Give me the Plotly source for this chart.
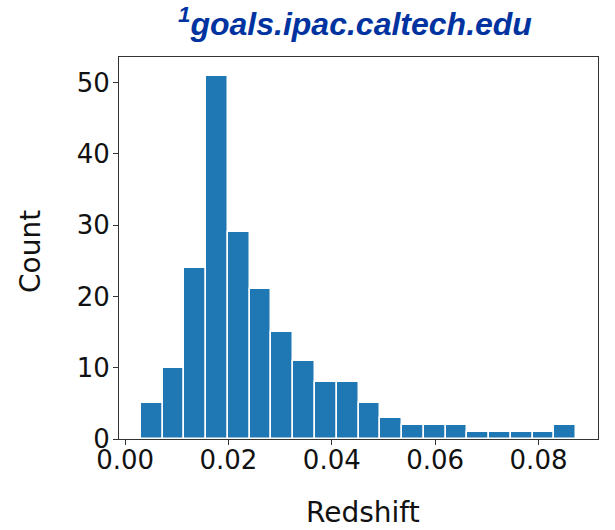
import numpy as np
import plotly.graph_objects as go

# Histogram data
counts = [5, 10, 24, 51, 29, 21, 15, 11, 8, 8, 5, 3, 2, 2, 2, 1, 1, 1, 1, 2]
bin_lo = 0.00303
bin_hi = 0.0873
x_tickvals = [0.00, 0.02, 0.04, 0.06, 0.08]
x_ticktext = ["0.00", "0.02", "0.04", "0.06", "0.08"]
y_tickvals = [0, 10, 20, 30, 40, 50]
title_text = "<sup>1</sup>goals.ipac.caltech.edu"
x_label = "Redshift"
y_label = "Count"

edges = np.linspace(bin_lo, bin_hi, len(counts) + 1)
centers = (edges[:-1] + edges[1:]) / 2
width = edges[1] - edges[0]

W, H = 615, 530
L, R, T, B = 119, 17, 57, 91
pw, ph = W - L - R, H - T - B

def px(x):
    return (x - L) / pw

def py(y):
    return (H - B - y) / ph

fig = go.Figure()
fig.add_trace(go.Bar(
    x=centers, y=counts, width=[width] * len(counts),
    marker=dict(color="#1f77b4", line=dict(color="white", width=1.5)),
))

span = bin_hi - bin_lo
fig.update_layout(
    width=W, height=H,
    margin=dict(l=L, r=R, t=T, b=B, autoexpand=False),
    paper_bgcolor="white", plot_bgcolor="white",
    showlegend=False, bargap=0,
    font=dict(family="DejaVu Sans", size=26, color="#111"),
    xaxis=dict(
        range=[bin_lo - 0.05 * span, bin_hi + 0.05 * span],
        tickvals=x_tickvals, ticktext=x_ticktext,
        tickfont=dict(size=26),
        ticks="outside", ticklen=5, tickcolor="#333",
        ticklabelstandoff=-7,
        showline=True, linecolor="#333", linewidth=1, mirror=True,
        showgrid=False, zeroline=False, automargin=False,
    ),
    yaxis=dict(
        range=[0, 53.6],
        tickvals=y_tickvals,
        tickfont=dict(size=26),
        ticks="outside", ticklen=5, tickcolor="#333",
        ticklabelstandoff=-2,
        showline=True, linecolor="#333", linewidth=1, mirror=True,
        showgrid=False, zeroline=False, automargin=False,
    ),
    annotations=[
        dict(
            text="<b><i>" + title_text + "</i></b>",
            xref="paper", yref="paper", x=px(355), y=py(22),
            xanchor="center", yanchor="middle", showarrow=False,
            font=dict(family="Liberation Sans, Arial", size=32, color="#0033a0"),
        ),
        dict(
            text=x_label, xref="paper", yref="paper", x=px(363), y=py(512),
            xanchor="center", yanchor="middle", showarrow=False,
            font=dict(family="DejaVu Sans", size=28, color="#111"),
        ),
        dict(
            text=y_label, xref="paper", yref="paper", x=px(30), y=py(252),
            xanchor="center", yanchor="middle", showarrow=False, textangle=-90,
            font=dict(family="DejaVu Sans", size=28, color="#111"),
        ),
    ],
)

fig.write_html("out.html")
